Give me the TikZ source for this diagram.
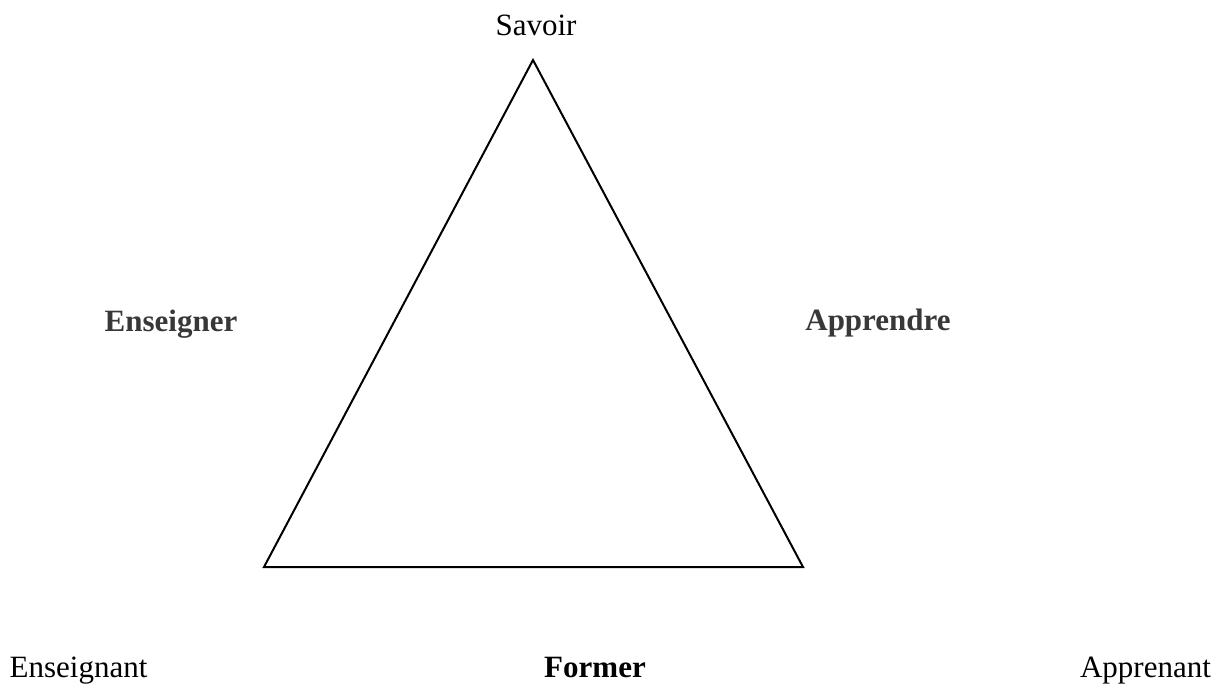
\documentclass[tikz,border=0pt]{standalone}
\usepackage{fontspec}
\setmainfont{Liberation Serif}
\usepackage{tikz}

\begin{document}
\begin{tikzpicture}[x=1pt,y=-1pt,every node/.style={anchor=base,inner sep=0pt,font=\fontsize{31}{37}\selectfont},
    act/.style={font=\fontsize{31}{37}\selectfont\bfseries,text=black!78}]
    \useasboundingbox (0,0) rectangle (1227,684);

    \coordinate (S) at (533,60);
    \coordinate (E) at (264,567);
    \coordinate (A) at (803,567);

    \node (savoir) at (536,36) {Savoir};
    \node[act] (enseigner) at (171,332) {Enseigner};
    \node[act] (apprendre) at (878,331) {Apprendre};
    \node (enseignant) at (78.5,677) {Enseignant};
    \node[act,text=black] (former) at (595,677) {Former};
    \node (apprenant) at (1145.5,677) {Apprenant};

    \draw[line width=2pt,line join=miter]
        (S) -- (E) -- (A) -- cycle;
\end{tikzpicture}
\end{document}
